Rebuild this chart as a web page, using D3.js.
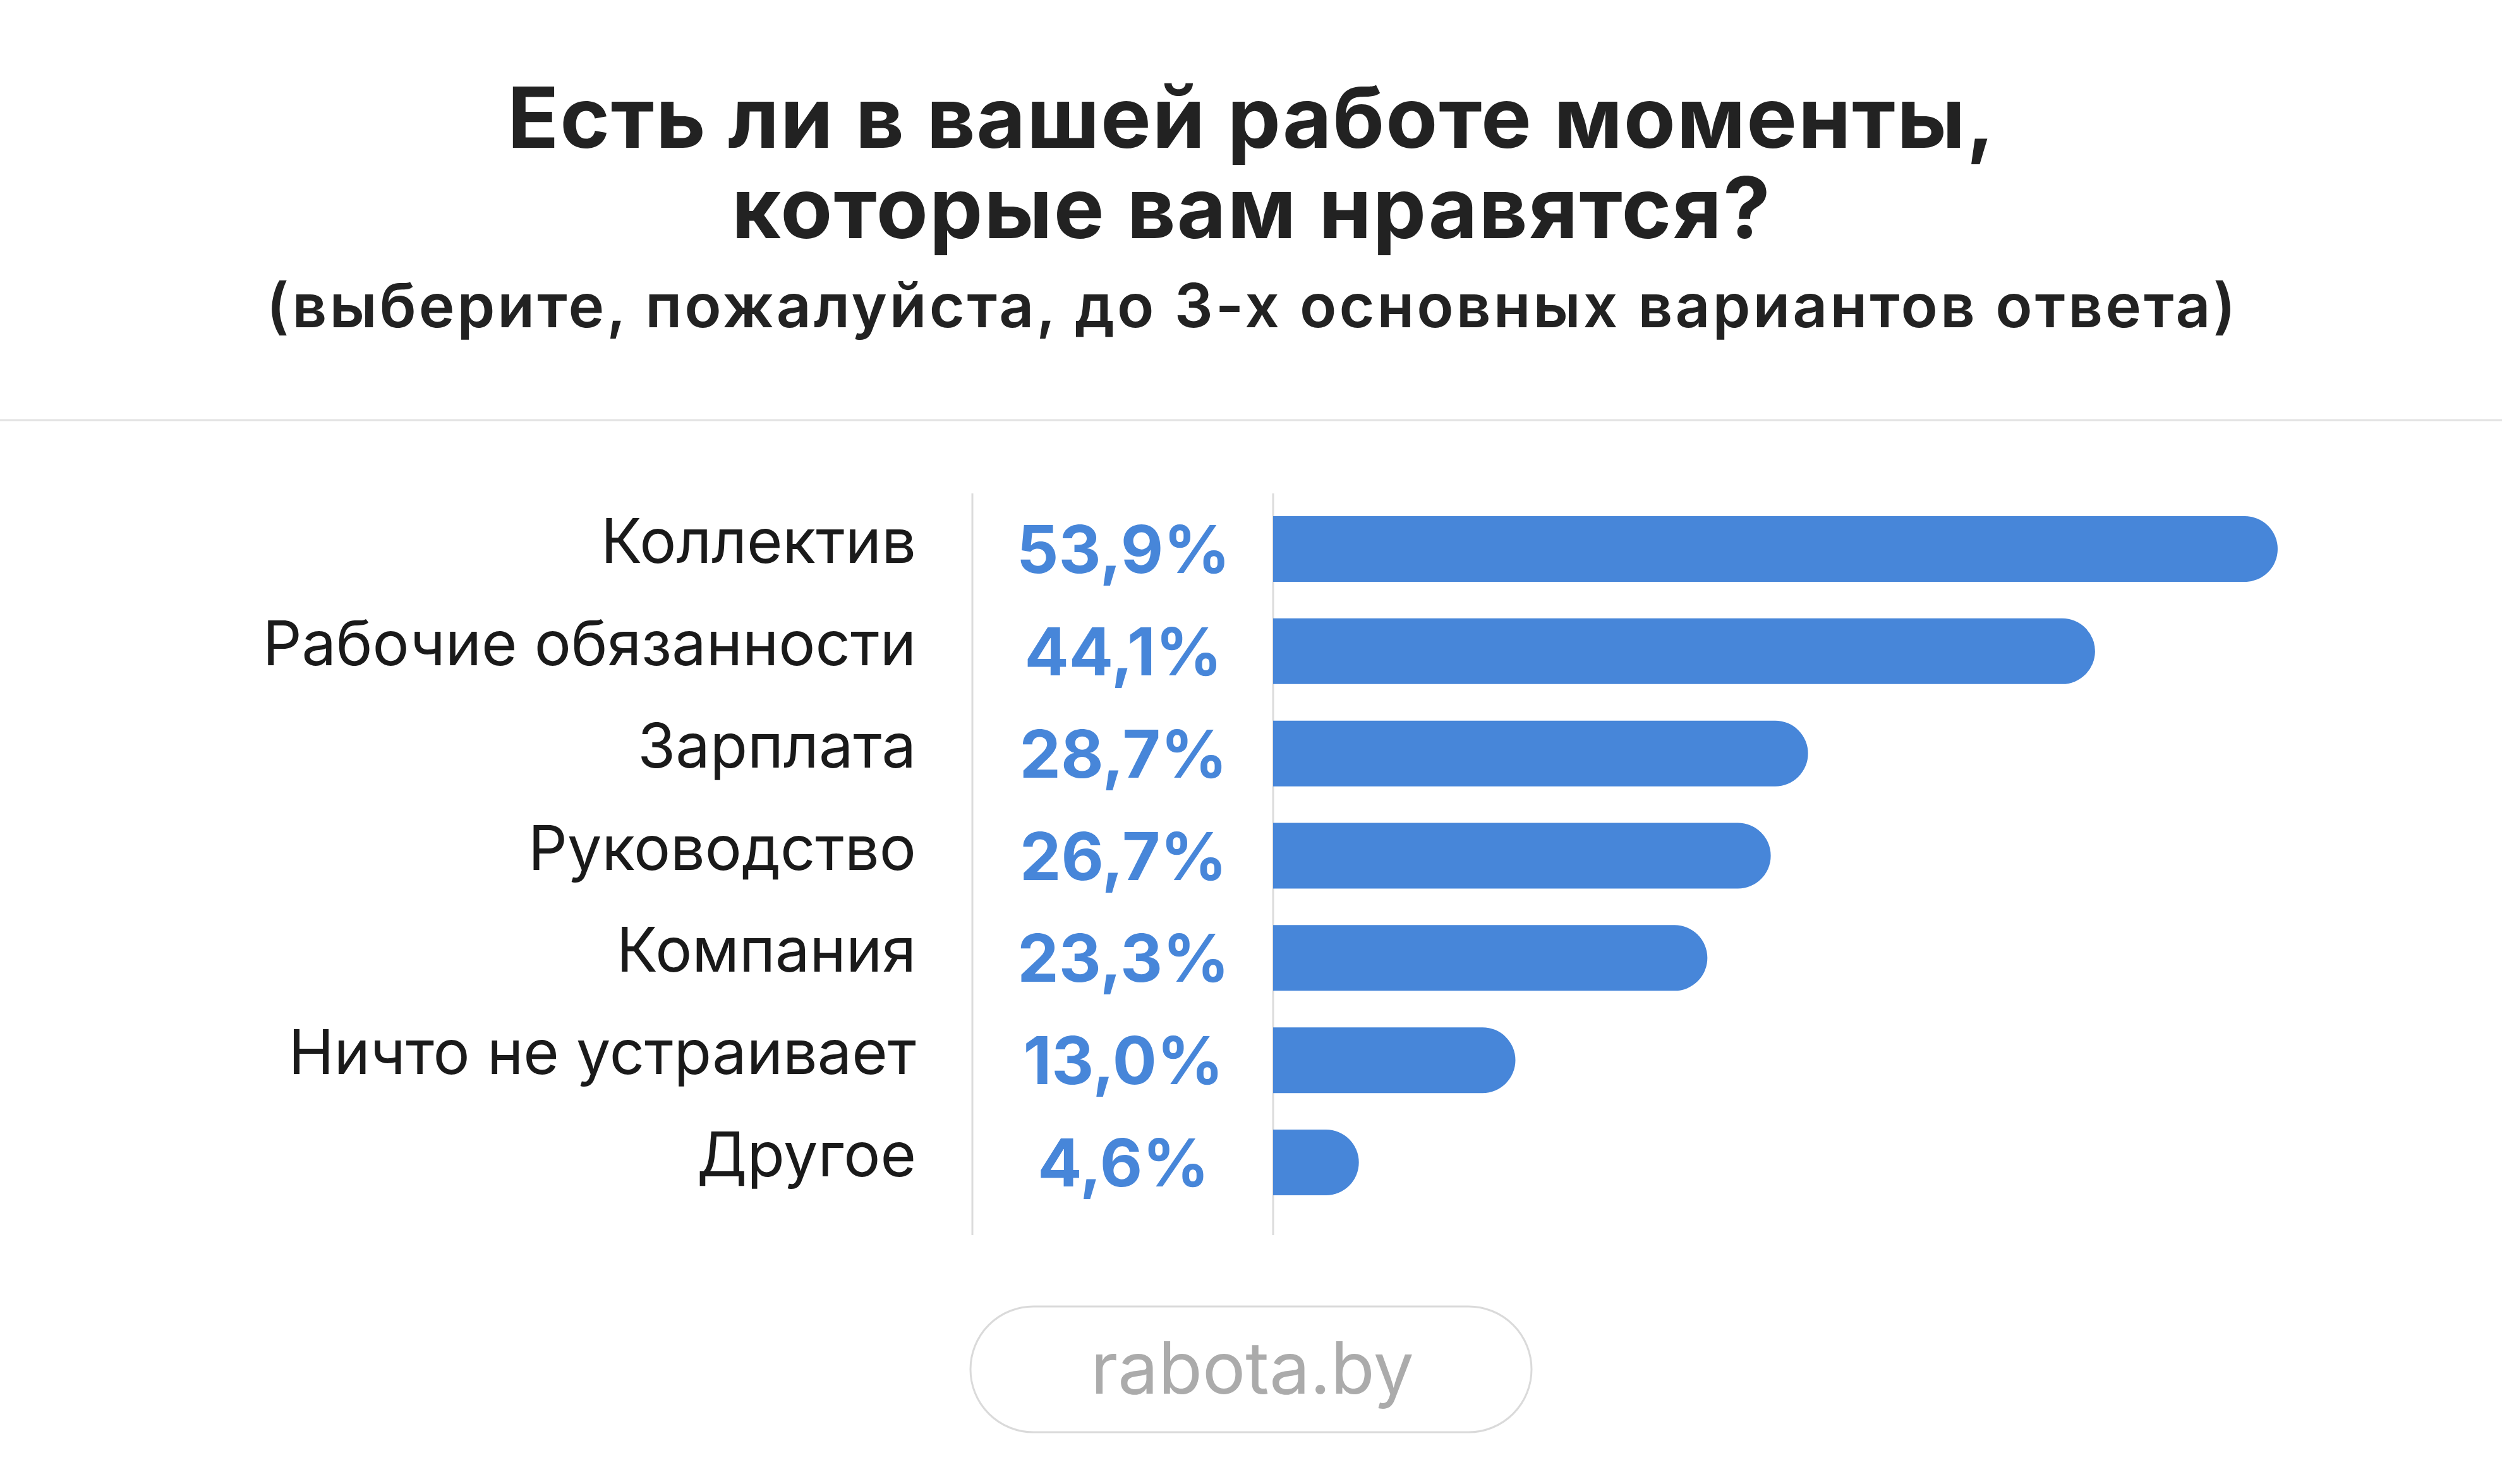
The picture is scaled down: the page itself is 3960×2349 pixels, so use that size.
<!DOCTYPE html>
<html>
<head>
<meta charset="utf-8">
<script src="https://cdn.jsdelivr.net/npm/d3@7"></script>
<style>
  body { margin: 0; background: #fff; }
  svg { display: block; }
</style>
</head>
<body>
<div id="chart"></div>
<script>
// data
const categories = ['Коллектив', 'Рабочие обязанности', 'Зарплата', 'Руководство', 'Компания', 'Ничто не устраивает', 'Другое'];
const values = [53.9, 44.1, 28.7, 26.7, 23.3, 13.0, 4.6];
const titleLines = ['Есть ли в вашей работе моменты,', 'которые вам нравятся?'];
const subtitle = '(выберите, пожалуйста, до 3-х основных вариантов ответа)';
const brand = 'rabota.by';

const W = 3960, H = 2349;
const blue = '#4786d9';
const font = 'Inter, "Noto Sans", sans-serif';

const ru = d3.formatLocale({ decimal: ',', thousands: ' ', grouping: [3], currency: ['', ''] });
const fmt = v => ru.format('.1f')(v) + '%';

const svg = d3.select('#chart').append('svg').attr('width', W).attr('height', H);
svg.append('rect').attr('width', W).attr('height', H).attr('fill', '#fff');

// title (widths stretched a bit to match the original typeface)
const titleWidths = [2354, 1644];
svg.selectAll('text.title')
  .data(titleLines)
  .enter().append('text')
  .attr('class', 'title')
  .attr('x', W / 2)
  .attr('y', (d, i) => 234 + i * 143)
  .attr('text-anchor', 'middle')
  .attr('textLength', (d, i) => titleWidths[i])
  .attr('lengthAdjust', 'spacing')
  .style('font-family', font)
  .style('font-weight', 700)
  .style('font-size', '134px')
  .style('fill', '#222')
  .text(d => d);

svg.append('text')
  .attr('x', W / 2).attr('y', 518)
  .attr('text-anchor', 'middle')
  .attr('textLength', 3117)
  .attr('lengthAdjust', 'spacing')
  .style('font-family', font)
  .style('font-weight', 600)
  .style('font-size', '96px')
  .style('fill', '#222')
  .text(subtitle);

// divider
svg.append('line')
  .attr('x1', 0).attr('x2', W).attr('y1', 665).attr('y2', 665)
  .style('stroke', '#e2e2e2').style('stroke-width', 3);

// scales
const x0 = 2015;
const xScale = d3.scaleLinear().domain([0, d3.max(values)]).range([0, 1590]);
const yScale = d3.scalePoint().domain(categories).range([869, 1840]);
const barH = 104;

// vertical separators
[1539, x0].forEach(x => {
  svg.append('line')
    .attr('x1', x).attr('x2', x).attr('y1', 781).attr('y2', 1955)
    .style('stroke', '#dcdcdc').style('stroke-width', 3);
});

const rows = categories.map((c, i) => ({ cat: c, val: values[i] }));

function barPath(d) {
  const w = xScale(d.val);
  const r = Math.min(barH / 2, w);
  const top = yScale(d.cat) - barH / 2;
  return 'M' + x0 + ',' + top +
    'H' + (x0 + w - r) +
    'A' + r + ',' + (barH / 2) + ' 0 0 1 ' + (x0 + w - r) + ',' + (top + barH) +
    'H' + x0 + 'Z';
}

svg.selectAll('path.bar')
  .data(rows)
  .enter().append('path')
  .attr('class', 'bar')
  .attr('d', barPath)
  .style('fill', blue);

// category labels
svg.selectAll('text.cat')
  .data(rows)
  .enter().append('text')
  .attr('class', 'cat')
  .attr('x', 1450)
  .attr('y', d => yScale(d.cat) + 22)
  .attr('text-anchor', 'end')
  .style('font-family', font)
  .style('font-size', '97px')
  .style('fill', '#1a1a1a')
  .text(d => d.cat);

// value labels
svg.selectAll('text.val')
  .data(rows)
  .enter().append('text')
  .attr('class', 'val')
  .attr('x', 1778)
  .attr('y', d => yScale(d.cat) + 38)
  .attr('text-anchor', 'middle')
  .style('font-family', font)
  .style('font-weight', 700)
  .style('font-size', '104px')
  .style('fill', blue)
  .text(d => fmt(d.val));

// brand pill
svg.append('rect')
  .attr('x', 1536).attr('y', 2068).attr('width', 888).attr('height', 199)
  .attr('rx', 99.5).attr('ry', 99.5)
  .style('fill', 'none').style('stroke', '#dadada').style('stroke-width', 3);

svg.append('text')
  .attr('x', 1982).attr('y', 2206)
  .attr('text-anchor', 'middle')
  .style('font-family', font)
  .style('font-size', '114px')
  .style('fill', '#ababab')
  .text(brand);
</script>
</body>
</html>
